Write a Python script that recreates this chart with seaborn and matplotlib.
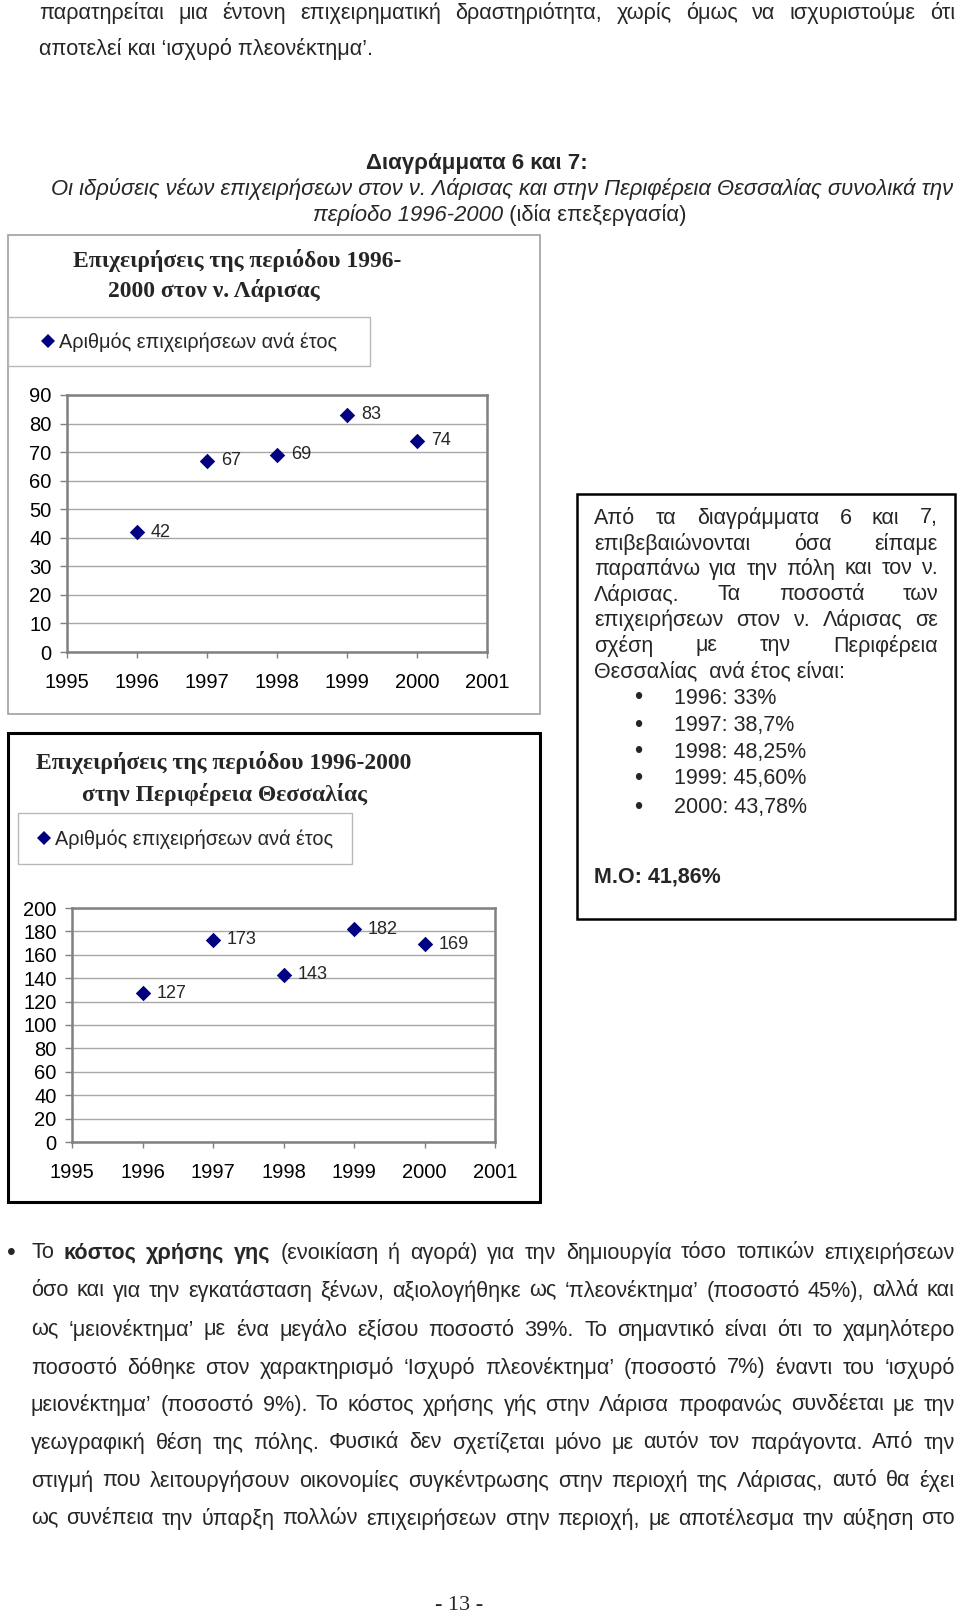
import numpy as np
import pandas as pd
import matplotlib
matplotlib.use("Agg")
import matplotlib.pyplot as plt
import seaborn as sns
from matplotlib.patches import Rectangle
from matplotlib.lines import Line2D

# ---------------- data ----------------
years = [1996, 1997, 1998, 1999, 2000]
larisa_counts = [42, 67, 69, 83, 74]
thessalia_counts = [127, 173, 143, 182, 169]
x_ticks = [1995, 1996, 1997, 1998, 1999, 2000, 2001]
y_ticks_larisa = [0, 10, 20, 30, 40, 50, 60, 70, 80, 90]
y_ticks_thessalia = [0, 20, 40, 60, 80, 100, 120, 140, 160, 180, 200]
series_label = "Αριθμός επιχειρήσεων ανά έτος"
title_larisa = ["Επιχειρήσεις της περιόδου 1996-", "2000 στον ν. Λάρισας"]
title_thessalia = ["Επιχειρήσεις της περιόδου 1996-2000", "στην Περιφέρεια Θεσσαλίας"]
share_years = ["1996", "1997", "1998", "1999", "2000"]
share_values = ["33%", "38,7%", "48,25%", "45,60%", "43,78%"]
mean_share = "41,86%"

top_lines = [
    "παρατηρείται μια έντονη επιχειρηματική δραστηριότητα, χωρίς όμως να ισχυριστούμε ότι",
    "αποτελεί και ‘ισχυρό πλεονέκτημα’.",
]
caption_bold = "Διαγράμματα 6 και 7:"
caption_line = "Οι ιδρύσεις νέων επιχειρήσεων στον ν. Λάρισας και στην Περιφέρεια Θεσσαλίας συνολικά την"
caption_italic_end = "περίοδο 1996-2000"
caption_normal_end = " (ιδία επεξεργασία)"

box_lines = [
    "Από τα διαγράμματα 6 και 7,",
    "επιβεβαιώνονται όσα είπαμε",
    "παραπάνω για την πόλη και τον ν.",
    "Λάρισας. Τα ποσοστά των",
    "επιχειρήσεων στον ν. Λάρισας σε",
    "σχέση με την Περιφέρεια",
    "Θεσσαλίας  ανά έτος είναι:",
]
bottom_lines = [
    "Το **κόστος χρήσης γης** (ενοικίαση ή αγορά) για την δημιουργία τόσο τοπικών επιχειρήσεων",
    "όσο και για την εγκατάσταση ξένων, αξιολογήθηκε ως ‘πλεονέκτημα’ (ποσοστό 45%), αλλά και",
    "ως ‘μειονέκτημα’ με ένα μεγάλο εξίσου ποσοστό 39%. Το σημαντικό είναι ότι το χαμηλότερο",
    "ποσοστό δόθηκε στον χαρακτηρισμό ‘Ισχυρό πλεονέκτημα’ (ποσοστό 7%) έναντι του ‘ισχυρό",
    "μειονέκτημα’ (ποσοστό 9%).  Το κόστος χρήσης γής στην Λάρισα προφανώς συνδέεται με την",
    "γεωγραφική θέση της πόλης. Φυσικά δεν σχετίζεται μόνο με αυτόν τον παράγοντα. Από την",
    "στιγμή που λειτουργήσουν οικονομίες συγκέντρωσης στην περιοχή της Λάρισας, αυτό θα έχει",
    "ως συνέπεια την ύπαρξη πολλών επιχειρήσεων στην περιοχή, με αποτέλεσμα την αύξηση στο",
]
page_number = "- 13 -"

# ---------------- style ----------------
sns.set_style("white")
SANS = ["Liberation Sans", "DejaVu Sans"]
SERIF = ["Liberation Serif", "DejaVu Serif"]
plt.rcParams["font.family"] = SANS

W, H = 960, 1618
fig = plt.figure(figsize=(9.6, 16.18), dpi=100)
fig.patch.set_facecolor("white")
renderer = fig.canvas.get_renderer()


def fx(x):
    return x / W


def fy(y):
    return 1 - y / H


def measure(s, size, weight="normal", style="normal", family=SANS):
    t = fig.text(0, 0, s, fontsize=size, fontweight=weight, fontstyle=style, family=family)
    w = t.get_window_extent(renderer).width
    t.remove()
    return w


def space_w(size, family=SANS, weight="normal", style="normal"):
    return measure("x x", size, weight, style, family) - measure("xx", size, weight, style, family)


def tokens_of(line):
    parts = line.split("**")
    toks = []
    for i, p in enumerate(parts):
        wt = "bold" if i % 2 == 1 else "normal"
        for w in p.split():
            toks.append((w, wt, "normal"))
    return toks


def place_words(tokens, x0, x1, y, size, family=SANS, justify=True):
    ws = [measure(t, size, wt, st, family) for t, wt, st in tokens]
    if justify and len(tokens) > 1:
        gap = (x1 - x0 - sum(ws)) / (len(tokens) - 1)
    else:
        gap = space_w(size, family)
    x = x0
    for (t, wt, st), w in zip(tokens, ws):
        fig.text(fx(x), fy(y), t, fontsize=size, fontweight=wt, fontstyle=st,
                 family=family, va="center", ha="left")
        x += w + gap


def natural_width(line, size):
    toks = tokens_of(line)
    return sum(measure(t, size, wt, st) for t, wt, st in toks) + (len(toks) - 1) * space_w(size)


# paragraph font size fitted to the column width
base = 16.5
fit = base
for ln, target in [(top_lines[0], 916)] + [(l, 924) for l in bottom_lines]:
    nw = natural_width(ln, base)
    if nw > target * 0.97:
        fit = min(fit, base * target * 0.97 / nw)
PSIZE = fit

# ---------------- top text ----------------
place_words(tokens_of(top_lines[0]), 39, 955, 13.5, PSIZE)
fig.text(fx(39), fy(48.5), top_lines[1], fontsize=PSIZE, va="center", ha="left")

cb_size = 15.5 * 222 / measure(caption_bold, 15.5, weight="bold")
fig.text(fx(477), fy(163), caption_bold, fontsize=cb_size, fontweight="bold", va="center", ha="center")
cl_size = 15 * 906 / measure(caption_line, 15, style="italic")
fig.text(fx(502), fy(189), caption_line, fontsize=cl_size, fontstyle="italic", va="center", ha="center")
w_it = measure(caption_italic_end, cl_size, style="italic")
w_nm = measure(caption_normal_end, cl_size)
x_start = 500 - (w_it + w_nm) / 2
fig.text(fx(x_start), fy(215), caption_italic_end, fontsize=cl_size, fontstyle="italic", va="center", ha="left")
fig.text(fx(x_start + w_it), fy(215), caption_normal_end, fontsize=cl_size, va="center", ha="left")


# ---------------- charts ----------------
NAVY = "#000080"


def rect_fig(x0, y0, x1, y1, **kw):
    r = Rectangle((fx(x0), fy(y1)), (x1 - x0) / W, (y1 - y0) / H,
                  transform=fig.transFigure, fill=False, **kw)
    fig.add_artist(r)
    return r


def draw_chart(values, yticks, axes_px, box_px, box_kw, title_lines, title_pos, legend_box, diamond_xy):
    bx0, by0, bx1, by1 = box_px
    rect_fig(bx0, by0, bx1, by1, **box_kw)
    for line, (cx, cy) in zip(title_lines, title_pos):
        fig.text(fx(cx), fy(cy), line, fontsize=17, fontweight="bold", family=SERIF,
                 va="center", ha="center")
    lx0, ly0, lx1, ly1 = legend_box
    rect_fig(lx0, ly0, lx1, ly1, ec="#b8b8b8", lw=1.0)

    l, t, r, b = axes_px
    ax = fig.add_axes([fx(l), fy(b), (r - l) / W, (b - t) / H])
    df = pd.DataFrame({"year": years, "count": values})
    sns.scatterplot(data=df, x="year", y="count", marker="D", s=62, color=NAVY,
                    edgecolor=NAVY, linewidth=0, ax=ax, legend=False, zorder=3, clip_on=False)
    ax.set_xlim(x_ticks[0], x_ticks[-1])
    ax.set_ylim(yticks[0], yticks[-1])
    ax.set_xticks(x_ticks)
    ax.set_yticks(yticks)
    ax.set_xticklabels([str(v) for v in x_ticks])
    ax.set_yticklabels([str(v) for v in yticks])
    ax.yaxis.grid(True, color="#a8a8a8", lw=1.0)
    ax.xaxis.grid(False)
    ax.set_axisbelow(True)
    for sp in ax.spines.values():
        sp.set_visible(True)
        sp.set_color("#808080")
        sp.set_linewidth(1.8)
    ax.tick_params(axis="y", direction="out", length=5, width=1, color="#808080",
                   labelsize=14.5, labelcolor="black", pad=6, left=True)
    ax.tick_params(axis="x", direction="out", length=4, width=1, color="#808080",
                   labelsize=14.5, labelcolor="black", pad=11, bottom=True)
    ax.set_xlabel("")
    ax.set_ylabel("")
    for xv, yv in zip(years, values):
        ax.annotate(str(yv), (xv, yv), xytext=(10, 0), textcoords="offset points",
                    va="center", ha="left", fontsize=13)

    handle = Line2D([], [], marker="D", ls="", color=NAVY, markersize=7.5, markeredgewidth=0)
    dx, dy = diamond_xy
    fig.legend([handle], [series_label], loc="center left",
               bbox_to_anchor=(fx(dx - 7), fy(dy)), frameon=False, fontsize=14.3,
               handlelength=0.7, handletextpad=0.2, borderpad=0, borderaxespad=0)
    return ax


draw_chart(larisa_counts, y_ticks_larisa,
           axes_px=(67, 395, 487, 652), box_px=(8, 235, 540, 714),
           box_kw=dict(ec="#a0a0a0", lw=1.2),
           title_lines=title_larisa, title_pos=[(237, 260), (214, 291)],
           legend_box=(8, 317, 370, 366), diamond_xy=(48.5, 342))

draw_chart(thessalia_counts, y_ticks_thessalia,
           axes_px=(72, 908, 495, 1142), box_px=(8, 733, 540, 1202),
           box_kw=dict(ec="black", lw=2.2),
           title_lines=title_thessalia, title_pos=[(224, 763), (224, 794)],
           legend_box=(17.5, 813, 352, 864), diamond_xy=(44, 839))

# ---------------- right text box ----------------
rect_fig(577, 494, 955, 919, ec="black", lw=1.8)
BSIZE = 15.5
box_y = [518, 544, 569, 595, 620, 646, 672]
for i, (ln, yy) in enumerate(zip(box_lines, box_y)):
    if i < len(box_lines) - 1:
        place_words(tokens_of(ln), 594, 938, yy, BSIZE)
    else:
        fig.text(fx(594), fy(yy), ln, fontsize=BSIZE, va="center", ha="left")
bullet_y = [698, 726, 752, 779, 808]
for yr, val, yy in zip(share_years, share_values, bullet_y):
    fig.text(fx(638), fy(yy), "•", fontsize=17, va="center", ha="center")
    fig.text(fx(674), fy(yy), f"{yr}: {val}", fontsize=BSIZE, va="center", ha="left")
fig.text(fx(594), fy(877), f"M.O: {mean_share}", fontsize=BSIZE, fontweight="bold",
         va="center", ha="left")

# ---------------- bottom paragraph ----------------
fig.text(fx(11), fy(1253), "•", fontsize=18, va="center", ha="center")
bottom_y = [1253, 1291, 1330, 1368, 1405, 1443, 1481, 1519]
for ln, yy in zip(bottom_lines, bottom_y):
    place_words(tokens_of(ln), 31, 955, yy, PSIZE)

fig.text(fx(459), fy(1606), page_number, fontsize=16, family=SERIF, va="center", ha="center")

fig.savefig("out.png", dpi=100, facecolor="white")
